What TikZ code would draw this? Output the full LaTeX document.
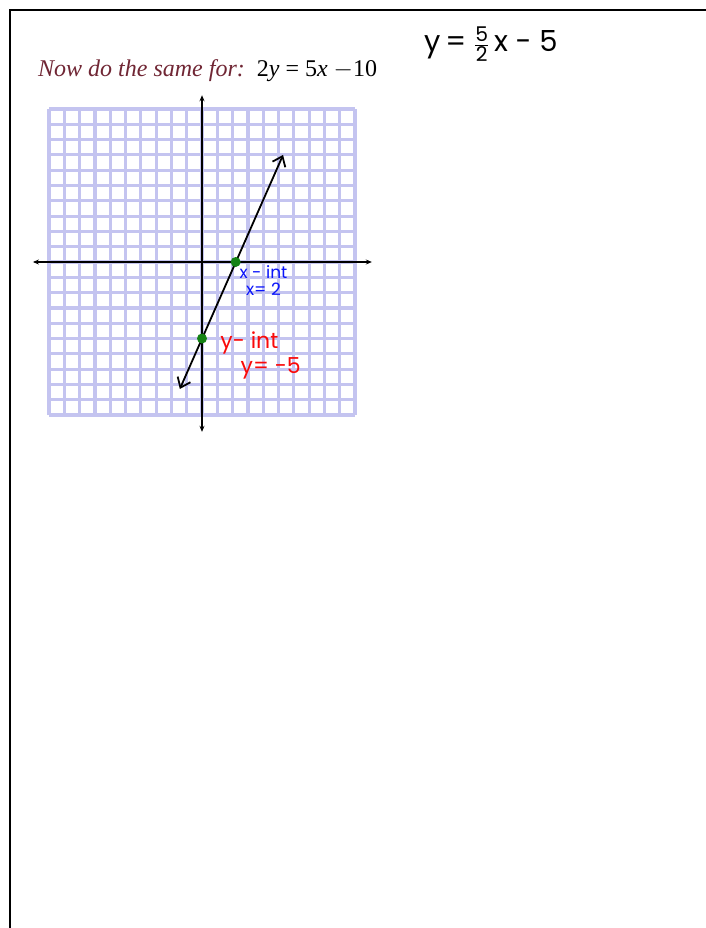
\documentclass[tikz,border=0pt]{standalone}
\usepackage{amsmath}
\usepackage{fontspec}
\setmainfont{Liberation Serif}
\newfontfamily\handfont{Poppins}
\usepackage{tikz}
\usetikzlibrary{arrows.meta,positioning}

\definecolor{gridlav}{RGB}{196,196,240}
\definecolor{titlered}{RGB}{112,38,52}
\definecolor{handblue}{RGB}{10,20,250}
\definecolor{handred}{RGB}{250,10,10}
\definecolor{dotgreen}{RGB}{20,130,20}

\begin{document}
\begin{tikzpicture}[
  x=1pt,y=-1pt,
  frame/.style={line width=2pt,black},
  gridline/.style={line width=3.2pt,gridlav},
  axis/.style={line width=1.3pt,{Stealth[length=6pt,width=5pt]}-{Stealth[length=6pt,width=5pt]}},
  graphline/.style={line width=1.8pt,line cap=round,
                    {Straight Barb[length=9pt,width=14pt,line width=1.8pt]}-{Straight Barb[length=9pt,width=14pt,line width=1.8pt]}},
  intdot/.style={circle,fill=dotgreen,inner sep=0pt,minimum size=10pt},
  hand/.style={font=\handfont\fontsize{17}{18}\selectfont,inner sep=0pt,align=left}
]
  \useasboundingbox (0,0) rectangle (706,928);
  % page frame, top and left only
  \draw[frame] (706,10) -- (10,10) -- (10,928);

  \node[anchor=base west,inner sep=0pt,font=\fontsize{24}{26}\selectfont] (title) at (38,77)
    {\textcolor{titlered}{\itshape Now do the same for:}\ \ 2\textit{y} = 5\textit{x} $-$10};
  \node[hand,font=\handfont\fontsize{29}{30}\selectfont,anchor=west] (eqn) at (424,44)
    {y\,= $\genfrac{}{}{0.9pt}{}{\text{5}}{\text{2}}$\,x - 5};

  \begin{scope}[shift={(202,262)},x=15.3pt,y=15.3pt]
    \draw[gridline,step=1] (-10,-10) grid (10,10);
    \coordinate (xl) at (-11.05,0);
    \coordinate (xr) at (11.1,0);
    \coordinate (yb) at (0,-11.1);
    \coordinate (yt) at (0,10.9);
    \draw[axis] (xl) -- (xr);
    \draw[axis] (yb) -- (yt);
    \coordinate (lo) at (-1.45,-8.3);
    \coordinate (hi) at (5.3,7.0);
    \draw[graphline] (lo) -- (hi);
    \node[intdot] (xint) at (2.2,0) {};
    \node[intdot] (yint) at (0,-5) {};
  \end{scope}

  % hand written labels
  \node[hand,handblue,font=\handfont\fontsize{17}{15}\selectfont,anchor=north west,
        below right=0pt and 0pt of xint] (xlab) {x - int};
  \node[hand,handblue,font=\handfont\fontsize{17}{15}\selectfont,anchor=north,
        below=4pt of xlab.south,xshift=0pt] (xval) {x= 2};
  \node[hand,handred,font=\handfont\fontsize{22}{20}\selectfont,anchor=west,
        right=13pt of yint,yshift=-4pt] (ylab) {y- int};
  \node[hand,handred,font=\handfont\fontsize{22}{20}\selectfont,anchor=north west,
        below right=3pt and -38pt of ylab.south east] (yval) {y= -5};
\end{tikzpicture}
\end{document}
